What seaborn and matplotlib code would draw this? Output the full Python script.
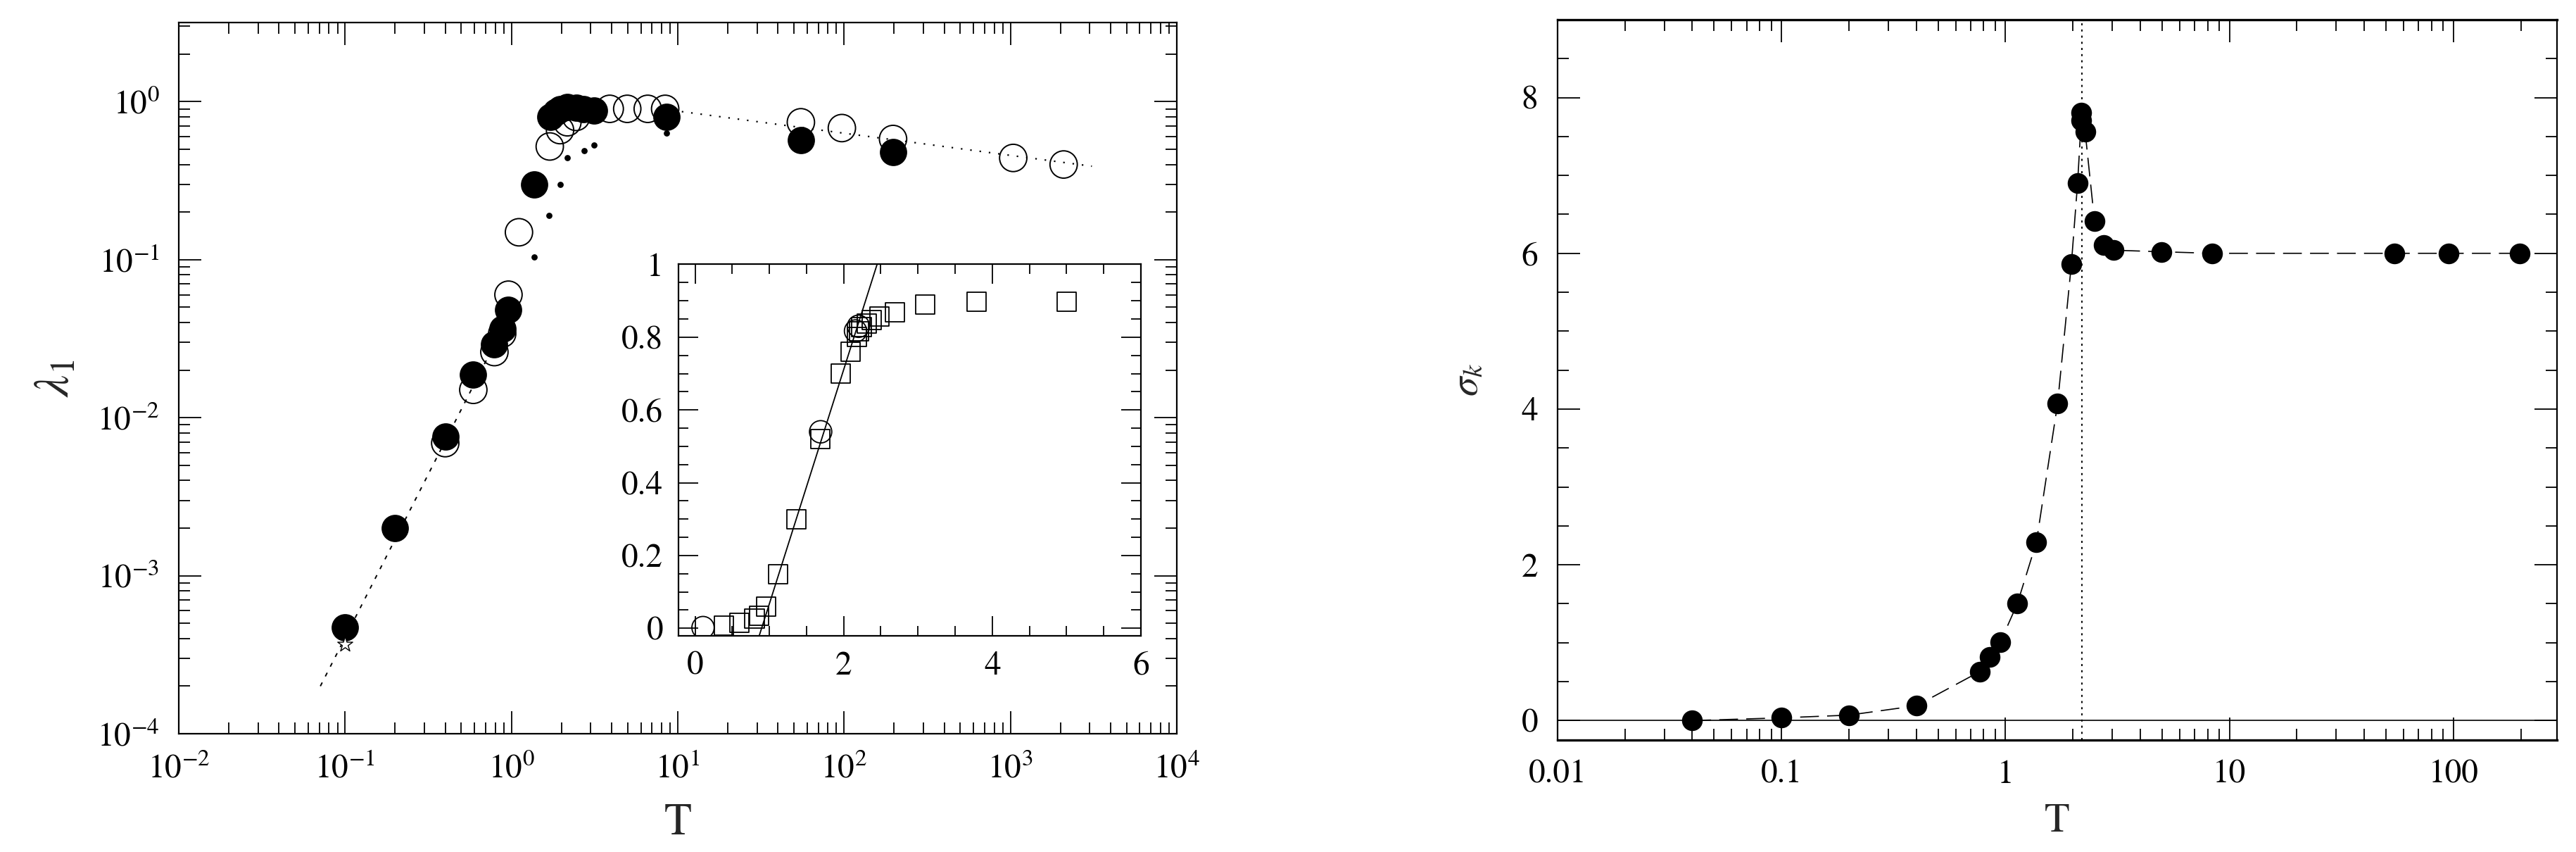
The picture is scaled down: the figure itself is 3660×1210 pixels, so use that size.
import numpy as np
import seaborn as sns
import matplotlib.pyplot as plt
from matplotlib.ticker import LogLocator, FixedLocator, MultipleLocator, FormatStrFormatter, LogFormatterMathtext, NullFormatter

# === Data: left panel (lambda_1 vs T, log-log) ===
filled_T = [0.1, 0.2, 0.40, 0.59, 0.79, 0.88, 0.96, 1.37, 1.72, 1.85, 1.96, 2.17, 2.45, 2.7, 3.15, 8.6, 55, 197]
filled_L = [4.7e-4, 2.0e-3, 7.6e-3, 0.0187, 0.029, 0.0366, 0.048, 0.30, 0.80, 0.86, 0.90, 0.92, 0.91, 0.90, 0.88, 0.80, 0.57, 0.48]

open_T = [0.40, 0.59, 0.79, 0.88, 0.96, 1.11, 1.70, 1.96, 2.17, 2.45, 3.9, 4.97, 6.6, 8.4, 55, 97, 197, 1040, 2090]
open_L = [6.9e-3, 0.015, 0.026, 0.034, 0.060, 0.149, 0.52, 0.66, 0.74, 0.80, 0.90, 0.90, 0.90, 0.90, 0.74, 0.68, 0.58, 0.44, 0.40]

dot_T = [1.37, 1.68, 1.97, 2.17, 2.74, 3.15, 8.6]
dot_L = [0.104, 0.19, 0.30, 0.44, 0.49, 0.53, 0.63]

star_T = [0.1]
star_L = [3.7e-4]

fit_low_T = [0.071, 0.84]
fit_low_L = [2.0e-4, 0.033]
fit_high_T = [9.3, 3090]
fit_high_L = [0.88, 0.39]

left_xticks = [1e-2, 1e-1, 1e0, 1e1, 1e2, 1e3, 1e4]
left_yticks = [1e-4, 1e-3, 1e-2, 1e-1, 1e0]

# === Data: inset (linear) ===
sq_T = [0.39, 0.60, 0.80, 0.86, 0.96, 1.12, 1.36, 1.69, 1.96, 2.09, 2.18, 2.21, 2.24, 2.31, 2.38, 2.48, 2.69, 3.10, 3.79, 5.0]
sq_L = [0.007, 0.015, 0.026, 0.034, 0.059, 0.149, 0.30, 0.52, 0.70, 0.76, 0.80, 0.816, 0.827, 0.838, 0.847, 0.857, 0.869, 0.889, 0.897, 0.897]
ci_T = [0.107, 1.69, 2.16, 2.20]
ci_L = [0.002, 0.54, 0.817, 0.83]
inset_fit_T = [0.864, 2.45]
inset_fit_L = [-0.02, 1.0]

# === Data: right panel (sigma_k vs T) ===
sig_T = [0.04, 0.1, 0.2, 0.4, 0.77, 0.85, 0.95, 1.13, 1.375, 1.71, 1.97, 2.10, 2.18, 2.18, 2.27, 2.50, 2.75, 3.05, 4.97, 8.4, 54.7, 94.9, 198]
sig_S = [0.0, 0.035, 0.07, 0.19, 0.63, 0.82, 1.01, 1.50, 2.29, 4.07, 5.86, 6.90, 7.71, 7.81, 7.56, 6.41, 6.11, 6.04, 6.02, 6.0, 6.0, 6.0, 6.0]
right_xticks = [0.01, 0.1, 1, 10, 100]
T_C = 2.2

TICK_FS = 34
MAJ_LEN, MIN_LEN = 23, 11.5


def style_axis(ax, pad=20):
    ax.tick_params(which="both", direction="in", top=True, right=True, width=1.3, colors="black")
    ax.tick_params(which="major", length=MAJ_LEN, labelsize=TICK_FS, pad=pad)
    ax.tick_params(which="minor", length=MIN_LEN)
    for sp in ax.spines.values():
        sp.set_linewidth(1.6)
        sp.set_color("black")
        sp.set_visible(True)


# === 1. Left panel ===
def plot_left(ax):
    ax.set_xscale("log")
    ax.set_yscale("log")
    sns.lineplot(x=fit_low_T, y=fit_low_L, ax=ax, color="black", linewidth=1.4,
                 linestyle=(0, (3, 5)), sort=False, estimator=None)
    sns.lineplot(x=fit_high_T, y=fit_high_L, ax=ax, color="black", linewidth=1.6,
                 linestyle=(0, (1, 5)), sort=False, estimator=None)
    sns.scatterplot(x=open_T, y=open_L, ax=ax, marker="o", s=780, color="black",
                    facecolor="none", edgecolor="black", linewidth=1.4, zorder=3)
    sns.scatterplot(x=filled_T, y=filled_L, ax=ax, marker="o", s=780, color="black",
                    edgecolor="black", linewidth=0, zorder=4)
    sns.scatterplot(x=dot_T, y=dot_L, ax=ax, marker="o", s=40, color="black",
                    edgecolor="black", linewidth=0, zorder=4)
    sns.scatterplot(x=star_T, y=star_L, ax=ax, marker="*", s=260, color="black",
                    facecolor="white", edgecolor="black", linewidth=1.0, zorder=5)

    ax.set_xlim(1e-2, 1e4)
    ax.set_ylim(1e-4, 10 ** 0.5)
    ax.xaxis.set_major_locator(FixedLocator(left_xticks))
    ax.xaxis.set_minor_locator(LogLocator(base=10, subs=np.arange(2, 10), numticks=20))
    ax.yaxis.set_major_locator(FixedLocator(left_yticks))
    ax.yaxis.set_minor_locator(LogLocator(base=10, subs=np.arange(2, 10), numticks=20))
    ax.xaxis.set_major_formatter(LogFormatterMathtext())
    ax.yaxis.set_major_formatter(LogFormatterMathtext())
    ax.xaxis.set_minor_formatter(NullFormatter())
    ax.yaxis.set_minor_formatter(NullFormatter())
    style_axis(ax, pad=20)
    ax.set_xlabel("T", fontsize=46)
    ax.set_ylabel(r"$\lambda_1$", fontsize=50, rotation=90)
    ax.xaxis.set_label_coords(0.5, -0.097)
    ax.yaxis.set_label_coords(-0.100, 0.5)


# === 2. Inset ===
def plot_inset(ins):
    sns.lineplot(x=inset_fit_T, y=inset_fit_L, ax=ins, color="black", linewidth=1.3,
                 sort=False, estimator=None)
    sns.scatterplot(x=sq_T, y=sq_L, ax=ins, marker="s", s=380, color="black",
                    facecolor="none", edgecolor="black", linewidth=1.3, zorder=3)
    sns.scatterplot(x=ci_T, y=ci_L, ax=ins, marker="o", s=520, color="black",
                    facecolor="none", edgecolor="black", linewidth=1.3, zorder=3)
    ins.set_xlim(-0.22, 6)
    ins.set_ylim(-0.02, 1.0)
    ins.xaxis.set_major_locator(MultipleLocator(2))
    ins.xaxis.set_minor_locator(MultipleLocator(0.5))
    ins.yaxis.set_major_locator(MultipleLocator(0.2))
    ins.yaxis.set_minor_locator(MultipleLocator(0.05))
    ins.xaxis.set_major_formatter(FormatStrFormatter("%g"))
    ins.yaxis.set_major_formatter(FormatStrFormatter("%g"))
    style_axis(ins, pad=16)
    ins.tick_params(which="major", length=20)
    ins.tick_params(which="minor", length=10)
    ins.set_xlabel("")
    ins.set_ylabel("")


# === 3. Right panel ===
def plot_right(ax):
    ax.set_xscale("log")
    ax.axhline(0, color="black", linewidth=1.2, zorder=1)
    ax.axvline(T_C, color="black", linewidth=1.4, linestyle=(0, (1.5, 3)), zorder=1)
    sns.lineplot(x=sig_T, y=sig_S, ax=ax, color="black", linewidth=1.2,
                 linestyle=(0, (16, 7)), sort=False, estimator=None, zorder=2)
    sns.scatterplot(x=sig_T, y=sig_S, ax=ax, marker="o", s=450, color="black",
                    edgecolor="black", linewidth=0, zorder=3)
    ax.set_xlim(1e-2, 290)
    ax.set_ylim(-0.25, 9)
    ax.xaxis.set_major_locator(FixedLocator(right_xticks))
    ax.xaxis.set_minor_locator(LogLocator(base=10, subs=np.arange(2, 10), numticks=20))
    ax.xaxis.set_major_formatter(FormatStrFormatter("%g"))
    ax.xaxis.set_minor_formatter(NullFormatter())
    ax.yaxis.set_major_locator(MultipleLocator(2))
    ax.yaxis.set_minor_locator(MultipleLocator(0.5))
    style_axis(ax, pad=20)
    ax.spines["top"].set_linewidth(2.4)
    ax.spines["bottom"].set_linewidth(2.4)
    ax.set_xlabel("T", fontsize=42)
    ax.set_ylabel(r"$\sigma_k$", fontsize=40)
    ax.xaxis.set_label_coords(0.5, -0.088)
    ax.yaxis.set_label_coords(-0.072, 0.5)


def main():
    sns.set_style("ticks")
    plt.rcParams["font.family"] = ["STIXGeneral", "DejaVu Serif"]
    plt.rcParams["mathtext.fontset"] = "stix"

    fig = plt.figure(figsize=(36.6, 12.1), dpi=100)
    ax1 = fig.add_axes([0.0694, 0.1388, 0.3874, 0.8347])
    ins = ax1.inset_axes([0.501, 0.138, 0.463, 0.522])
    ax2 = fig.add_axes([0.6046, 0.1314, 0.388, 0.8455])

    plot_left(ax1)
    plot_inset(ins)
    plot_right(ax2)

    fig.savefig("out.png", dpi=100, facecolor="white")
    plt.close(fig)
    print("[OK] saved out.png")


if __name__ == "__main__":
    main()
